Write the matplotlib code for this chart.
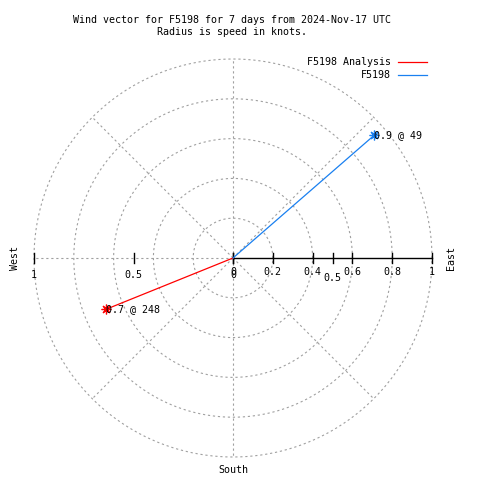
import numpy as np
import matplotlib
matplotlib.use("Agg")
import matplotlib.pyplot as plt
from matplotlib.lines import Line2D

# wind vectors (speed in knots, compass direction in degrees)
series_names = ["F5198 Analysis", "F5198"]
speeds = [0.69, 0.94]
directions = [248, 49]
series_colors = ["#ff0000", "#1a80f0"]

# polar grid / axis ticks
ring_radii = [0.2, 0.4, 0.6, 0.8, 1.0]
spoke_angles = [45, 90, 135, 180, 225, 270, 315]
east_ticks = [0, 0.2, 0.4, 0.6, 0.8, 1]
east_labels = ["0", "0.2", "0.4", "0.6", "0.8", "1"]
extra_east_ticks = [0.5]
extra_east_labels = ["0.5"]
west_ticks = [0, 0.5, 1]
west_labels = ["0", "0.5", "1"]

title_text = "Wind vector for F5198 for 7 days from 2024-Nov-17 UTC\nRadius is speed in knots."

plt.rcParams['font.family'] = ['DejaVu Sans Mono']
fs = 7.2
W = 480.0

fig = plt.figure(figsize=(4.8, 4.8), dpi=100)
# center of polar plot at pixel (233, 258), radius 199 px
ax = fig.add_axes([34 / W, (480 - 457) / W, 398 / W, 398 / W])
ax.set_xlim(-1, 1)
ax.set_ylim(-1, 1)
ax.set_aspect('equal')
ax.axis('off')

grid_kw = dict(color="#a0a0a0", lw=0.8, dashes=(2, 2.5), clip_on=False)
t = np.linspace(0, 2 * np.pi, 361)
for r in ring_radii:
    ax.plot(r * np.cos(t), r * np.sin(t), **grid_kw)
for a in spoke_angles:
    th = np.radians(a)
    ax.plot([0, np.cos(th)], [0, np.sin(th)], **grid_kw)

# solid east axis with ticks
tick = 5 / 199
ax.plot([0, 1], [0, 0], color="black", lw=1, clip_on=False)
for v in east_ticks + extra_east_ticks:
    ax.plot([v, v], [-tick, tick], color="black", lw=1, clip_on=False)
for v in west_ticks:
    ax.plot([-v, -v], [-tick, tick], color="black", lw=1, clip_on=False)

for v, lab in zip(east_ticks, east_labels):
    ax.text(v, -14 / 199, lab, ha="center", va="center", fontsize=fs)
for v, lab in zip(extra_east_ticks, extra_east_labels):
    ax.text(v, -20 / 199, lab, ha="center", va="center", fontsize=fs)
for v, lab in zip(west_ticks, west_labels):
    ax.text(-v, -17 / 199, lab, ha="center", va="center", fontsize=fs)

# wind vectors: compass bearing -> math angle
for name, spd, d, c in zip(series_names, speeds, directions, series_colors):
    th = np.radians(90 - d)
    x, y = spd * np.cos(th), spd * np.sin(th)
    ax.plot([0, x], [0, y], color=c, lw=0.9, clip_on=False)
    ax.plot([x], [y], marker=(8, 2, 0), color=c, ms=7, mew=0.9, clip_on=False)
    ax.text(x, y, "%.1f @ %d" % (spd, d), ha="left", va="center", fontsize=fs)

# direction labels
fig.text(15 / W, 1 - 258 / W, "West", rotation=90, ha="center", va="center", fontsize=fs)
fig.text(451 / W, 1 - 258 / W, "East", rotation=90, ha="center", va="center", fontsize=fs)
fig.text(233 / W, 1 - 470 / W, "South", ha="center", va="center", fontsize=fs)

fig.text(232 / W, 1 - 26 / W, title_text, ha="center", va="center", fontsize=fs,
         linespacing=1.25)

# legend
for i, (name, c) in enumerate(zip(series_names, series_colors)):
    yy = 1 - (62 + 13 * i) / W
    fig.text(391 / W, yy, name, ha="right", va="center", fontsize=fs)
    fig.add_artist(Line2D([398 / W, 427 / W], [yy, yy], color=c, lw=0.9))

fig.savefig("out.png", dpi=100)
